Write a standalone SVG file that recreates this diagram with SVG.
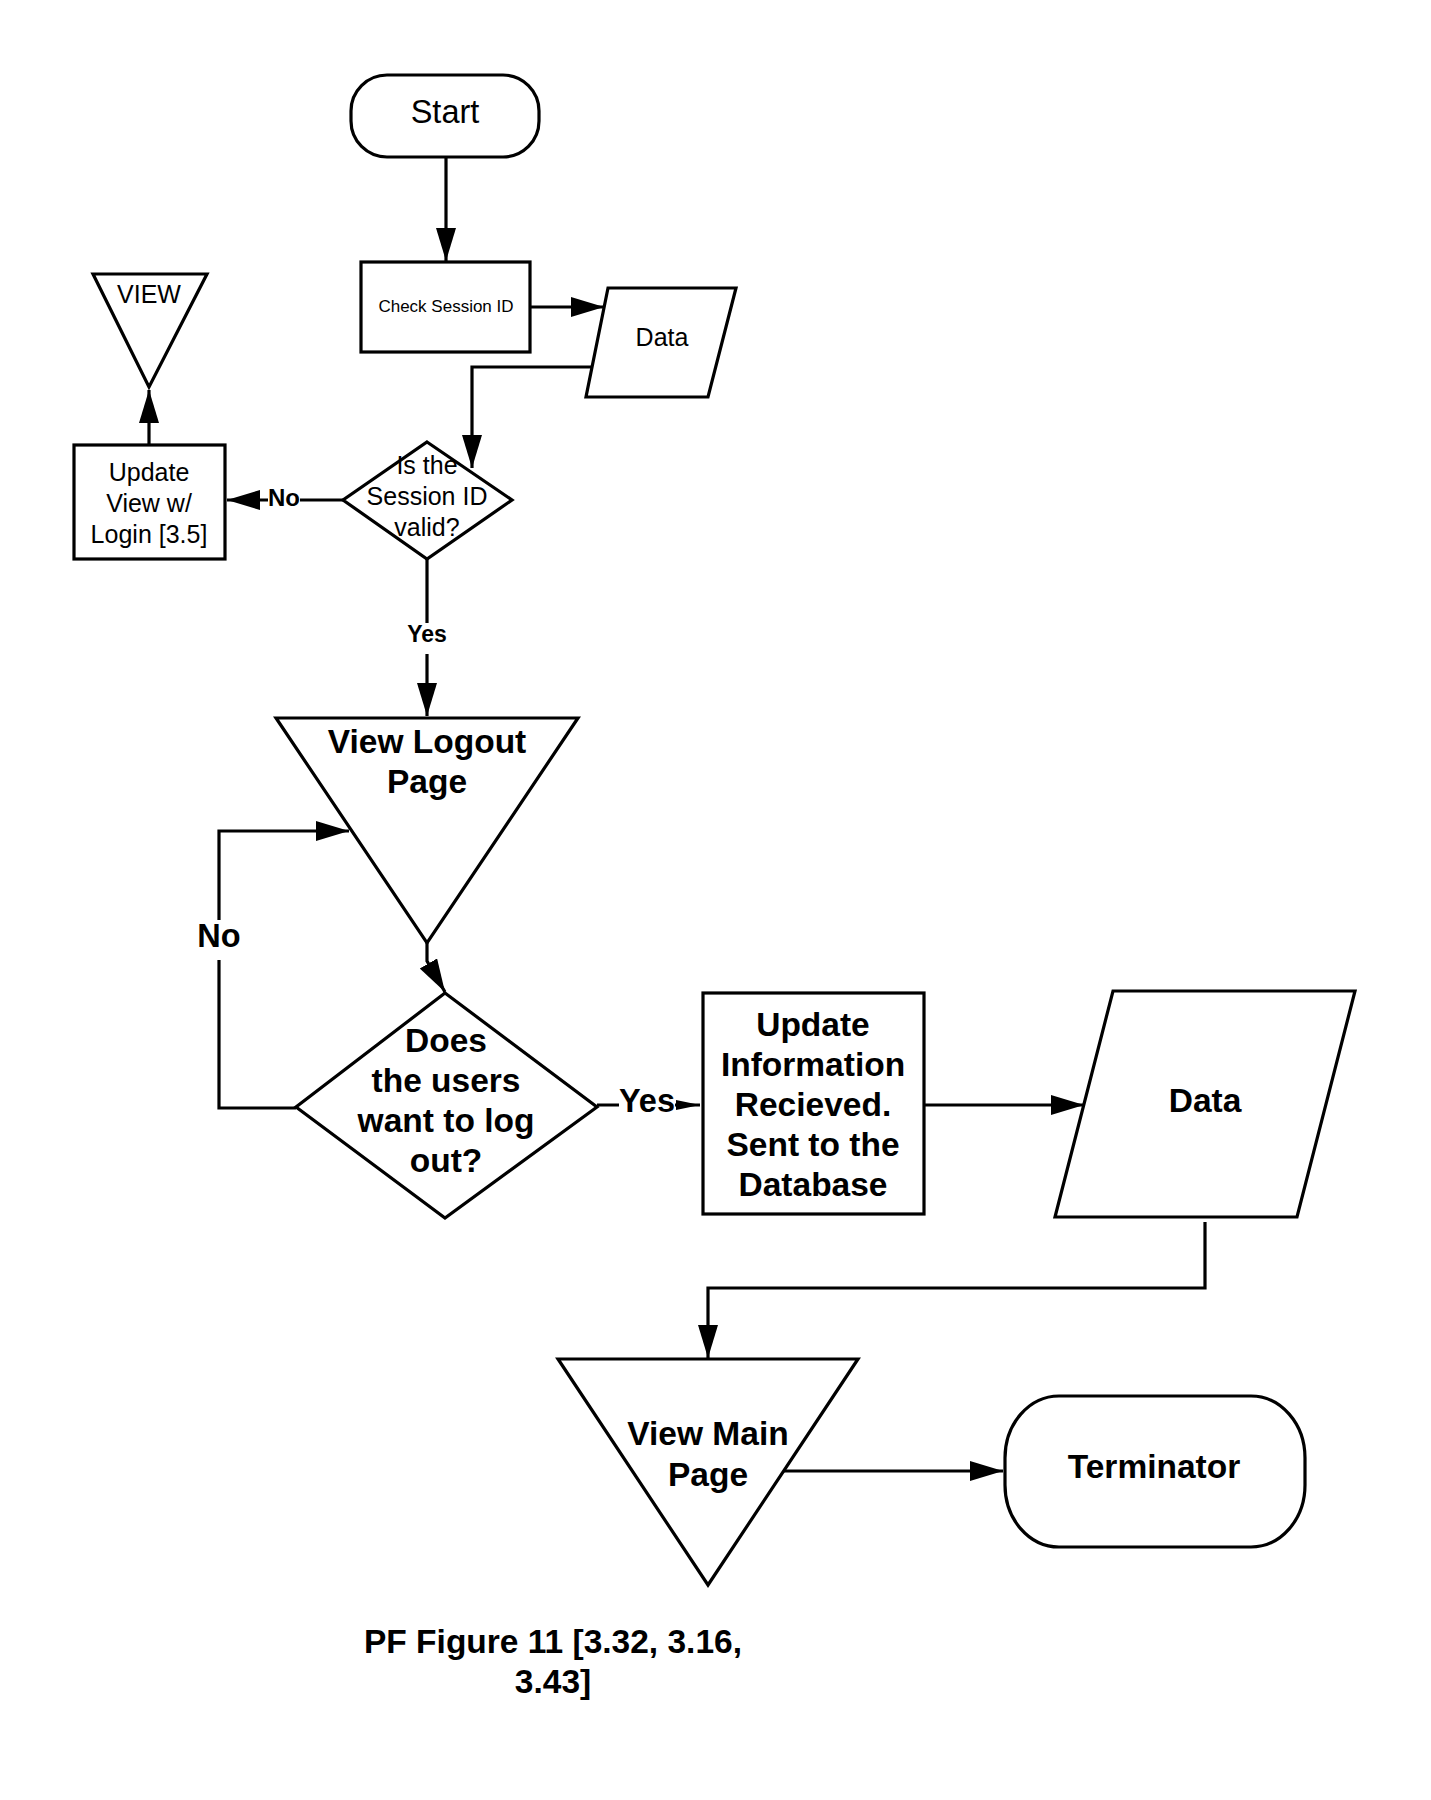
<svg xmlns="http://www.w3.org/2000/svg" width="1431" height="1800" viewBox="0 0 1431 1800">
  <style>
    .shape { fill: #ffffff; stroke: #000000; stroke-width: 3.2; stroke-linejoin: miter; }
    .edge { fill: none; stroke: #000000; stroke-width: 3.2; }
    .lbl-bg { fill: #ffffff; stroke: none; }
    text { font-family: "Liberation Sans", Arial, sans-serif; fill: #000000; text-anchor: middle; }
    .sm { font-size: 25px; }
    .tiny { font-size: 17px; }
    .big { font-size: 33.5px; font-weight: bold; }
    .lab { font-weight: bold; }
  </style>
  <defs>
    <marker id="arrow" markerUnits="userSpaceOnUse" markerWidth="34" markerHeight="22" refX="33" refY="10" orient="auto">
      <path d="M0,0 L33,10 L0,20 Z" fill="#000000"/>
    </marker>
    <marker id="arrowSmall" markerUnits="userSpaceOnUse" markerWidth="26" markerHeight="12" refX="24" refY="5" orient="auto">
      <path d="M0,0 L24,5 L0,10 Z" fill="#000000"/>
    </marker>
  </defs>

  <rect x="0" y="0" width="1431" height="1800" fill="#ffffff"/>

  <!-- connectors -->
  <g id="connectors">
    <path class="edge" d="M446,157 V261" marker-end="url(#arrow)"/>
    <path class="edge" d="M530,307 H604" marker-end="url(#arrow)"/>
    <path class="edge" d="M592,367 H472 V468" marker-end="url(#arrow)"/>
    <path class="edge" d="M149,445 V390" marker-end="url(#arrow)"/>

    <path class="edge" d="M343,500 H227" marker-end="url(#arrow)"/>
    <rect class="lbl-bg" x="268" y="486" width="32" height="26"/>
    <text class="lab" style="font-size:24px" x="284" y="506">No</text>

    <path class="edge" d="M427,559 V716" marker-end="url(#arrow)"/>
    <rect class="lbl-bg" x="407" y="623" width="40" height="31"/>
    <text class="lab" style="font-size:23px" x="427" y="642">Yes</text>

    <path class="edge" d="M427,943 V961 L445,992" marker-end="url(#arrow)"/>

    <path class="edge" d="M296,1108 H219 V831 H349" marker-end="url(#arrow)"/>
    <rect class="lbl-bg" x="198" y="920" width="42" height="40"/>
    <text class="lab" style="font-size:32.5px" x="219" y="947">No</text>

    <path class="edge" d="M597,1105 H700" marker-end="url(#arrowSmall)"/>
    <rect class="lbl-bg" x="619" y="1086" width="56" height="34"/>
    <text class="lab" style="font-size:32.5px" x="647" y="1112">Yes</text>

    <path class="edge" d="M924,1105 H1084" marker-end="url(#arrow)"/>
    <path class="edge" d="M1205,1222 V1288 H708 V1358" marker-end="url(#arrow)"/>
    <path class="edge" d="M784,1471 H1003" marker-end="url(#arrow)"/>
  </g>

  <!-- start terminal -->
  <g id="start">
    <rect class="shape" x="351" y="75" width="188" height="82" rx="36" ry="36"/>
    <text x="445" y="123" style="font-size:32.5px">Start</text>
  </g>

  <g id="check-session">
    <rect class="shape" x="361" y="262" width="169" height="90"/>
    <text class="tiny" x="446" y="312">Check Session ID</text>
  </g>

  <g id="data-session">
    <polygon class="shape" points="608,288 736,288 708,397 586,397"/>
    <text class="sm" x="662" y="346">Data</text>
  </g>

  <g id="view">
    <polygon class="shape" points="93,274 207,274 149,387"/>
    <text class="sm" x="149" y="303">VIEW</text>
  </g>

  <g id="update-view">
    <rect class="shape" x="74" y="445" width="151" height="114"/>
    <text class="sm" x="149" y="481">Update</text>
    <text class="sm" x="149" y="512">View w/</text>
    <text class="sm" x="149" y="543">Login [3.5]</text>
  </g>

  <g id="session-valid">
    <polygon class="shape" points="427,442 512,500 427,559 343,500"/>
    <text class="sm" x="427" y="474">Is the</text>
    <text class="sm" x="427" y="505">Session ID</text>
    <text class="sm" x="427" y="536">valid?</text>
  </g>

  <g id="view-logout">
    <polygon class="shape" points="276,718 578,718 427,943"/>
    <text class="big" x="427" y="753">View Logout</text>
    <text class="big" x="427" y="793">Page</text>
  </g>

  <g id="want-logout">
    <polygon class="shape" points="445,993 597,1107 445,1218 296,1107"/>
    <text class="big" x="446" y="1052">Does</text>
    <text class="big" x="446" y="1092">the users</text>
    <text class="big" x="446" y="1132">want to log</text>
    <text class="big" x="446" y="1172">out?</text>
  </g>

  <g id="update-info">
    <rect class="shape" x="703" y="993" width="221" height="221"/>
    <text class="big" x="813" y="1036">Update</text>
    <text class="big" x="813" y="1076">Information</text>
    <text class="big" x="813" y="1116">Recieved.</text>
    <text class="big" x="813" y="1156">Sent to the</text>
    <text class="big" x="813" y="1196">Database</text>
  </g>

  <g id="data-db">
    <polygon class="shape" points="1113,991 1355,991 1297,1217 1055,1217"/>
    <text class="big" x="1205" y="1112">Data</text>
  </g>

  <g id="view-main">
    <polygon class="shape" points="558,1359 858,1359 708,1585"/>
    <text class="big" x="708" y="1445">View Main</text>
    <text class="big" x="708" y="1486">Page</text>
  </g>

  <g id="terminator">
    <rect class="shape" x="1005" y="1396" width="300" height="151" rx="54" ry="62"/>
    <text class="big" x="1154" y="1478">Terminator</text>
  </g>

  <g id="caption">
    <text class="big" x="553" y="1653">PF Figure 11 [3.32, 3.16,</text>
    <text class="big" x="553" y="1693">3.43]</text>
  </g>
</svg>
